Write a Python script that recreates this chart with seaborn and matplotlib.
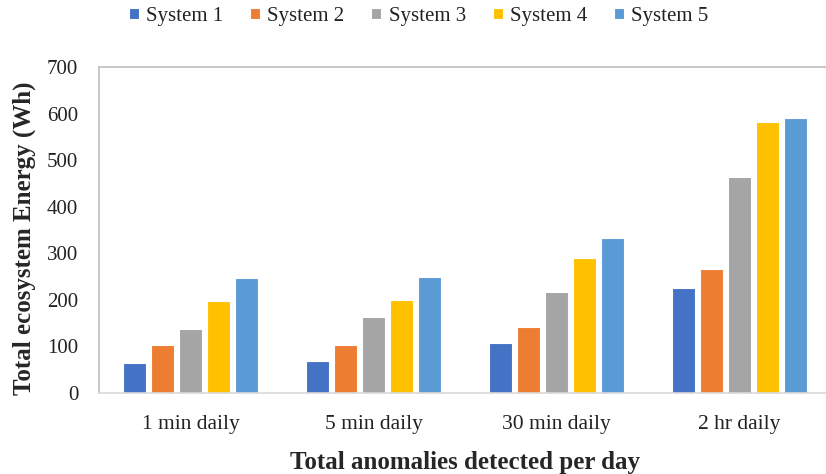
import matplotlib
matplotlib.use("Agg")
import matplotlib.pyplot as plt
import seaborn as sns
import pandas as pd

# Data
categories = ["1 min daily", "5 min daily", "30 min daily", "2 hr daily"]
systems = ["System 1", "System 2", "System 3", "System 4", "System 5"]
system_1 = [64, 68, 107, 225]
system_2 = [102, 102, 142, 266]
system_3 = [137, 163, 217, 464]
system_4 = [197, 200, 289, 583]
system_5 = [248, 250, 333, 591]
colors = ["#4472C4", "#ED7D31", "#A5A5A5", "#FFC000", "#5B9BD5"]
y_ticks = [0, 100, 200, 300, 400, 500, 600, 700]

series = [system_1, system_2, system_3, system_4, system_5]
rows = []
for name, vals in zip(systems, series):
    for cat, v in zip(categories, vals):
        rows.append({"Category": cat, "System": name, "Energy": v})
df = pd.DataFrame(rows)

sns.set_theme(style="white")
plt.rcParams["font.family"] = ["Liberation Serif", "DejaVu Serif"]

fig = plt.figure(figsize=(8.26, 4.74), dpi=100)
ax = fig.add_axes([0.1199, 0.1709, 0.8861, 0.6877])

sns.barplot(data=df, x="Category", y="Energy", hue="System",
            order=categories, hue_order=systems, palette=colors,
            width=0.77, gap=0.18, edgecolor="white", linewidth=0.8,
            saturation=1, errorbar=None, ax=ax)

ax.set_ylim(0, 700)
ax.set_yticks(y_ticks)
ax.set_xlim(-0.5, len(categories) - 0.5)
ax.tick_params(axis="y", length=0, pad=15, labelsize=15, labelcolor="#222222")
ax.tick_params(axis="x", length=0, pad=16, labelsize=15.5, labelcolor="#222222")

for side in ["top", "left"]:
    ax.spines[side].set_color("#BFBFBF")
    ax.spines[side].set_linewidth(1.2)
ax.spines["bottom"].set_color("#D9D9D9")
ax.spines["bottom"].set_linewidth(1.2)
ax.spines["right"].set_visible(False)

ax.set_xlabel("Total anomalies detected per day", fontsize=18,
              fontweight="bold", labelpad=12)
ax.set_ylabel("Total ecosystem Energy (Wh)", fontsize=18,
              fontweight="bold")
ax.yaxis.set_label_coords(-0.086, 0.475)

handles, labels = ax.get_legend_handles_labels()
ax.get_legend().remove()
fig.legend(handles, labels, loc="center", bbox_to_anchor=(0.507, 0.965),
           ncol=5, frameon=False, fontsize=15, handlelength=0.48,
           handleheight=0.48, handletextpad=0.34, columnspacing=1.3,
           labelcolor="#222222")

fig.savefig("out.png", dpi=100)
